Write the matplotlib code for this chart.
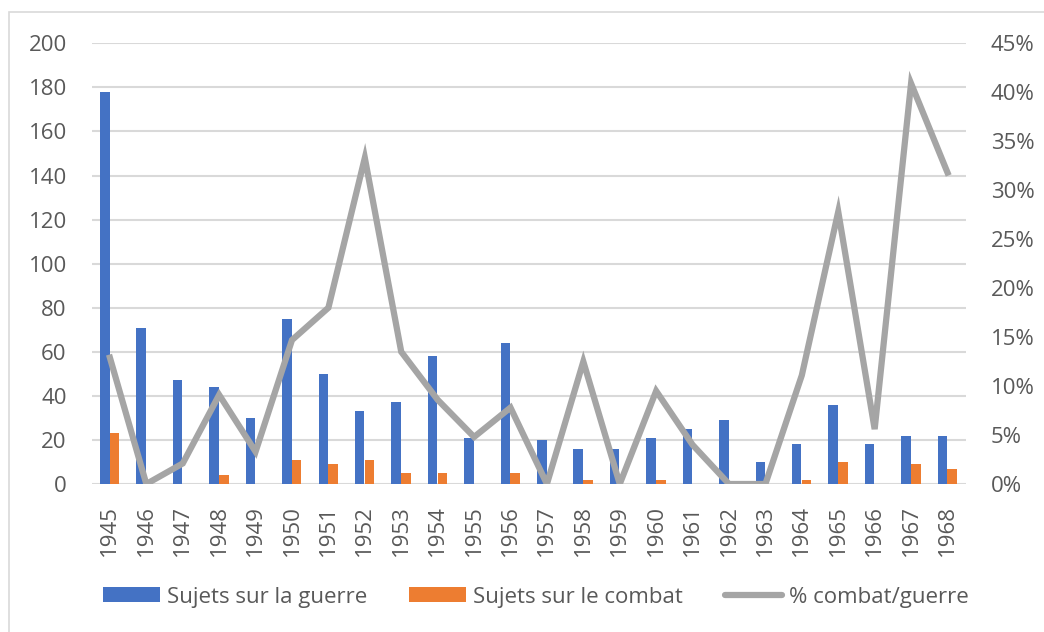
import matplotlib
matplotlib.use("Agg")
import matplotlib.pyplot as plt
from matplotlib.patches import Rectangle, Patch
from matplotlib.lines import Line2D
from matplotlib.ticker import FuncFormatter
import numpy as np

years = [str(y) for y in range(1945, 1969)]
guerre = [178, 71, 47, 44, 30, 75, 50, 33, 37, 58, 21, 64, 20, 16, 16, 21, 25, 29, 10, 18, 36, 18, 22, 22]
combat = [23, 0, 0, 4, 0, 11, 9, 11, 5, 5, 0, 5, 0, 2, 0, 2, 0, 0, 0, 2, 10, 0, 9, 7]
pct = [12.9, 0, 2.1, 9.1, 3.3, 14.7, 18.0, 33.3, 13.5, 8.6, 4.8, 7.8, 0, 12.5, 0, 9.5, 4.0, 0, 0, 11.1, 27.8, 5.6, 40.9, 31.8]
left_ticks = list(range(0, 201, 20))
right_ticks = [0, 5, 10, 15, 20, 25, 30, 35, 40, 45]

BLUE = "#4472C4"
ORANGE = "#ED7D31"
GRAY = "#A5A5A5"
GRID = "#D9D9D9"
TXT = "#595959"
FONT = "Open Sans"
FS = 16

plt.rcParams["font.family"] = [FONT, "DejaVu Sans"]

W, H = 1044, 632
fig = plt.figure(figsize=(W / 100, H / 100), dpi=100)
fig.patch.set_facecolor("white")

# chart border
fig.patches.append(Rectangle((8.5 / W, -0.05), 1.1, 1 - 12 / H + 0.05, transform=fig.transFigure,
                             fill=False, edgecolor=GRID, linewidth=1.2))

x0, x1, ytop, ybot = 91.7, 965.7, 43.3, 484
ax = fig.add_axes([x0 / W, 1 - ybot / H, (x1 - x0) / W, (ybot - ytop) / H])
ax2 = ax.twinx()

x = np.arange(len(years))
ax.bar(x - 0.14, guerre, width=0.26, color=BLUE, zorder=3)
ax.bar(x + 0.13, combat, width=0.26, color=ORANGE, zorder=3)

ax.set_ylim(0, 200)
ax.set_xlim(-0.5, len(years) - 0.5)
ax.set_yticks(left_ticks)
ax.yaxis.grid(True, color=GRID, linewidth=1.5, zorder=0)
ax.set_axisbelow(True)
ax.set_xticks(x)
ax.set_xticklabels(years, rotation=90)
for s in ax.spines.values():
    s.set_visible(False)
for s in ax2.spines.values():
    s.set_visible(False)
ax.tick_params(axis="both", length=0, labelsize=FS, labelcolor=TXT)
ax.tick_params(axis="y", pad=18)
ax.tick_params(axis="x", pad=15)

ax2.plot(x, np.array(pct) / 100, color=GRAY, linewidth=4.5, solid_joinstyle="miter", zorder=4)
ax2.set_ylim(0, 0.45)
ax2.set_yticks([t / 100 for t in right_ticks])
ax2.yaxis.set_major_formatter(FuncFormatter(lambda v, p: f"{round(v * 100)}%"))
ax2.tick_params(axis="y", length=0, labelsize=FS, labelcolor=TXT, pad=18)

handles = [Patch(facecolor=BLUE, edgecolor="none"),
           Patch(facecolor=ORANGE, edgecolor="none"),
           Line2D([], [], color=GRAY, linewidth=4.5, solid_capstyle="round")]
labels = ["Sujets sur la guerre", "Sujets sur le combat", "% combat/guerre"]
leg = fig.legend(handles, labels, loc="center", bbox_to_anchor=(536 / W, 1 - 597 / H), ncol=3,
                 frameon=False, fontsize=FS, labelcolor=TXT, handlelength=2.57, handleheight=0.68,
                 handletextpad=0.32, columnspacing=1.87, borderaxespad=0)

fig.savefig("out.png", dpi=100)
